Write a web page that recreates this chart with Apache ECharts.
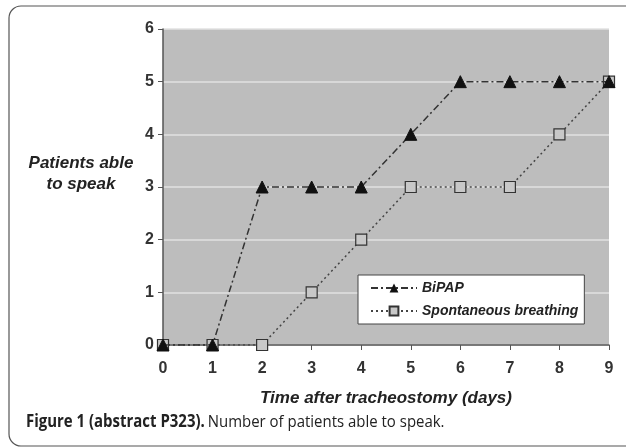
<!DOCTYPE html>
<html>
<head>
<meta charset="utf-8">
<script src="https://cdn.jsdelivr.net/npm/echarts@6/dist/echarts.min.js"></script>
<style>
html,body{margin:0;padding:0;background:#fff;}
#chart{width:626px;height:448px;}
</style>
</head>
<body>
<div id="chart"></div>
<script>
const days = [0,1,2,3,4,5,6,7,8,9];
const bipap = [0,0,3,3,3,4,5,5,5,5];
const spontaneous = [0,0,0,1,2,3,3,3,4,5];
const yTicks = [0,1,2,3,4,5,6];
const seriesNames = ['BiPAP','Spontaneous breathing'];

const chart = echarts.init(document.getElementById('chart'));
const font = 'Liberation Sans, Arial, sans-serif';
chart.setOption({
  animation:false,
  backgroundColor:'#fff',
  grid:{left:163,right:17,top:29,bottom:103,show:true,backgroundColor:'#bdbdbd',borderWidth:0},
  xAxis:{type:'value',min:0,max:9,interval:1,
    axisLine:{show:true,onZero:false,lineStyle:{color:'#555',width:1.5}},
    axisTick:{show:true,length:5,lineStyle:{color:'#555'}},
    axisLabel:{color:'#333',fontFamily:font,fontWeight:'bold',fontSize:16,margin:16},
    splitLine:{show:false}},
  yAxis:{type:'value',min:0,max:6,interval:1,
    axisLine:{show:true,lineStyle:{color:'#555',width:1.5}},
    axisTick:{show:true,length:5,lineStyle:{color:'#555'}},
    axisLabel:{color:'#333',fontFamily:font,fontWeight:'bold',fontSize:16,margin:9,
      formatter:v=>yTicks.includes(v)?String(v):''},
    splitLine:{show:true,lineStyle:{color:'#e2e2e2',width:1.5}}},
  legend:{
    left:358,top:275,orient:'vertical',
    backgroundColor:'#fff',borderColor:'#444',borderWidth:1,borderRadius:0,
    padding:[6,6,6,12],itemGap:9,itemWidth:46,itemHeight:11,
    textStyle:{fontFamily:font,fontStyle:'italic',fontWeight:'bold',fontSize:14,color:'#222'},
    data:seriesNames
  },
  series:[
    {name:seriesNames[0],type:'line',data:days.map((d,i)=>[d,bipap[i]]),
      symbol:'triangle',symbolSize:12,
      lineStyle:{color:'#333',width:1.5,type:[7,3,2,3]},
      itemStyle:{color:'#111',borderColor:'#111'},z:3},
    {name:seriesNames[1],type:'line',data:days.map((d,i)=>[d,spontaneous[i]]),
      symbol:'rect',symbolSize:11,
      lineStyle:{color:'#444',width:1.5,type:[2,3]},
      itemStyle:{color:'#c8c8c8',borderColor:'#333',borderWidth:1.2},z:2}
  ],
  graphic:[
    {type:'rect',shape:{x:9,y:6,width:700,height:440,r:12},
      style:{fill:'none',stroke:'#555',lineWidth:1.2},silent:true,z:-1},
    {type:'text',x:81,y:163,style:{text:'Patients able',fontFamily:font,fontStyle:'italic',fontWeight:'bold',fontSize:17,fill:'#222',textAlign:'center',textVerticalAlign:'middle'}},
    {type:'text',x:81,y:184,style:{text:'to speak',fontFamily:font,fontStyle:'italic',fontWeight:'bold',fontSize:17,fill:'#222',textAlign:'center',textVerticalAlign:'middle'}},
    {type:'text',x:386,y:398,style:{text:'Time after tracheostomy (days)',fontFamily:font,fontStyle:'italic',fontWeight:'bold',fontSize:17,fill:'#222',textAlign:'center',textVerticalAlign:'middle'}},
    {type:'text',x:26,y:422,scaleX:0.88,style:{
      text:'{b|Figure 1 (abstract P323).} {n|Number of patients able to speak.}',
      textVerticalAlign:'middle',
      rich:{
        b:{fontFamily:'Open Sans, Noto Sans, sans-serif',fontWeight:'bold',fontSize:17,fill:'#222'},
        n:{fontFamily:'Open Sans, Noto Sans, sans-serif',fontWeight:'normal',fontSize:17,fill:'#222'}
      }}}
  ]
});
</script>
</body>
</html>
